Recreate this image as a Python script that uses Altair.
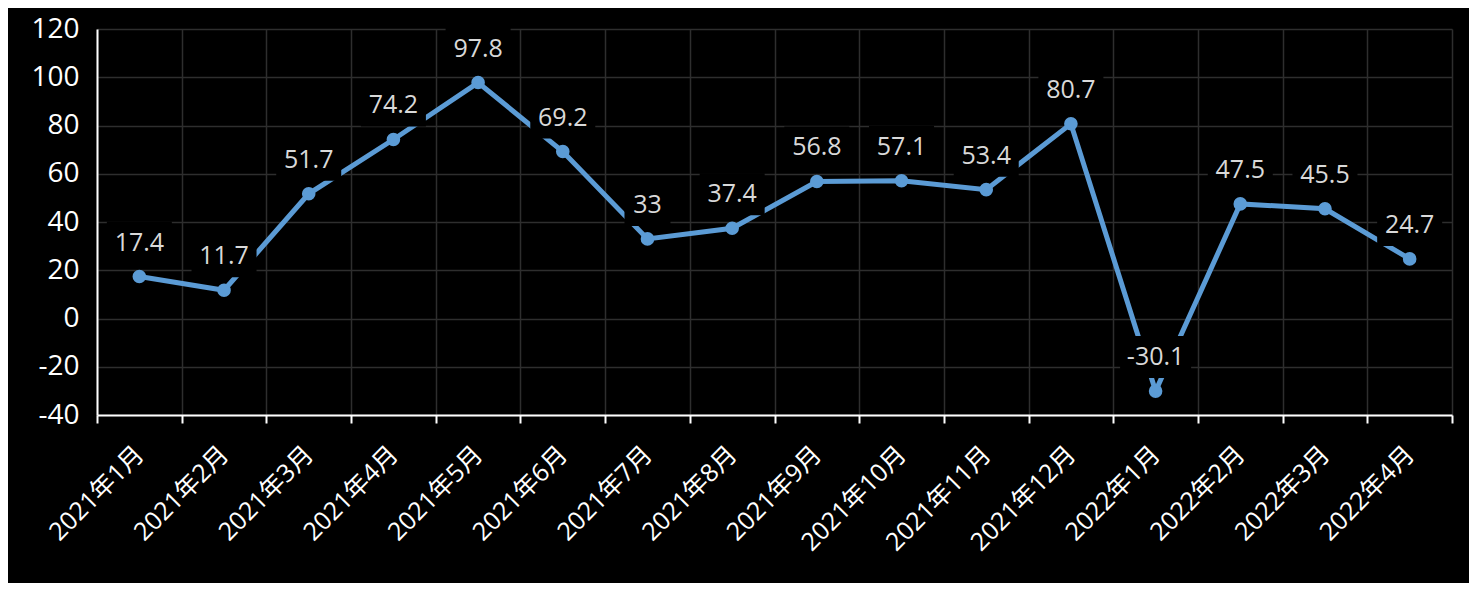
import altair as alt
import pandas as pd

categories = ["2021年1月", "2021年2月", "2021年3月", "2021年4月", "2021年5月", "2021年6月",
              "2021年7月", "2021年8月", "2021年9月", "2021年10月", "2021年11月", "2021年12月",
              "2022年1月", "2022年2月", "2022年3月", "2022年4月"]
values = [17.4, 11.7, 51.7, 74.2, 97.8, 69.2, 33, 37.4, 56.8, 57.1, 53.4, 80.7, -30.1, 47.5, 45.5, 24.7]
labels = [f"{v:g}" for v in values]
y_ticks = [-40, -20, 0, 20, 40, 60, 80, 100, 120]

df = pd.DataFrame({"month": categories, "value": values, "label": labels})

FONT = "Open Sans, Noto Sans CJK SC, sans-serif"
LINE = "#5B9BD5"

x_enc = alt.X("month:N", sort=categories, title=None,
              scale=alt.Scale(paddingInner=0, paddingOuter=0),
              axis=alt.Axis(labelAngle=-45, labelAlign="right", labelBaseline="middle",
                            labelPadding=27, labelFontSize=25, labelColor="#ffffff", labelFont=FONT,
                            tickBand="extent", tickColor="#ffffff", tickWidth=2, tickSize=8,
                            domainColor="#ffffff", domainWidth=2,
                            grid=True, gridColor="#2e2e2e", gridWidth=1.5))
y_enc = alt.Y("value:Q", title=None,
              scale=alt.Scale(domain=[-40, 120], nice=False),
              axis=alt.Axis(values=y_ticks, labelExpr="'' + datum.value",
                            labelFontSize=28, labelColor="#ffffff", labelFont=FONT,
                            labelPadding=18, ticks=False, domainColor="#ffffff", domainWidth=2,
                            grid=True, gridColor="#2e2e2e", gridWidth=1.5))

base = alt.Chart(df).encode(x=x_enc, y=y_enc)

line = base.mark_line(color=LINE, strokeWidth=5)
points = base.mark_point(filled=True, color=LINE, size=185, opacity=1)

boxes = base.transform_calculate(
    nd="length(replace(datum.label, regexp('[^0-9]', 'g'), ''))"
).transform_calculate(
    w="13*datum.nd + 6*(length(datum.label) - datum.nd) + 20"
).transform_calculate(
    box="'M' + (-datum.w/2) + ',-21H' + (datum.w/2) + 'V21H' + (-datum.w/2) + 'Z'"
).mark_point(filled=True, color="#000000", opacity=1, size=4, yOffset=-34).encode(
    shape=alt.Shape("box:N", scale=None, legend=None)
)

text = base.mark_text(fontSize=25, font=FONT, color="#d9d9d9", baseline="middle",
                      align="center", yOffset=-34).encode(text="label:N")

chart = alt.layer(line, points, boxes, text).properties(
    width=1355, height=386,
    autosize=alt.AutoSizeParams(type="none"),
    padding={"left": 89, "top": 21, "right": 17, "bottom": 168},
).configure(background="#000000").configure_view(stroke=None)

chart.save("out.html", embed_options={"renderer": "svg", "actions": False})
